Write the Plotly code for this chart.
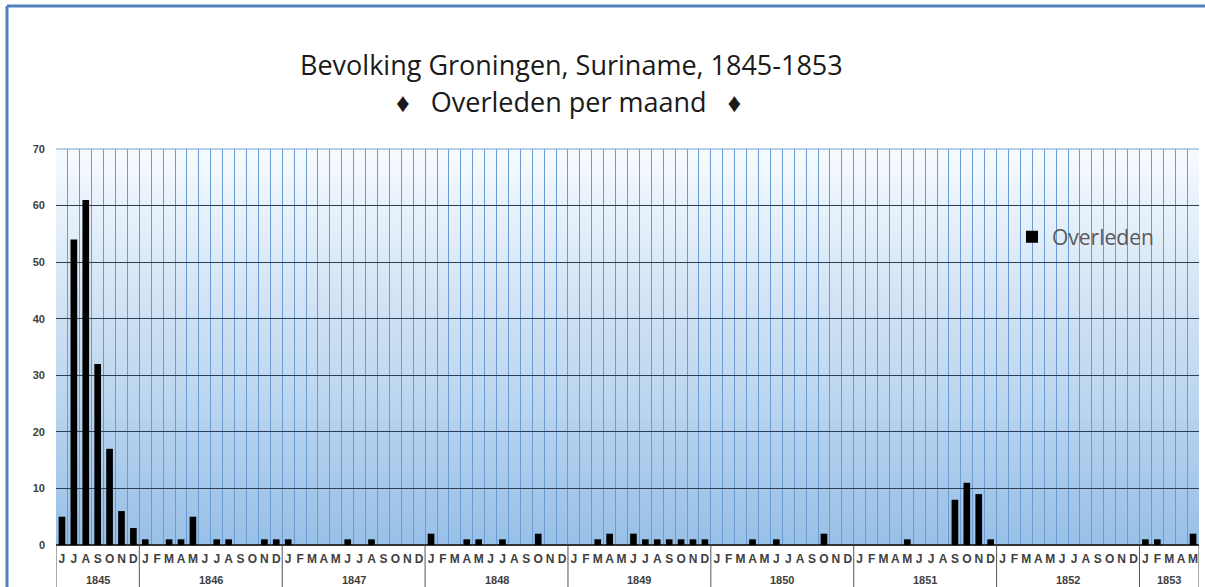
import plotly.graph_objects as go

# ---- data ----
years = ["1845", "1846", "1847", "1848", "1849", "1850", "1851", "1852", "1853"]
months_1845 = ["J", "J", "A", "S", "O", "N", "D"]
months_full = ["J", "F", "M", "A", "M", "J", "J", "A", "S", "O", "N", "D"]
months_1853 = ["J", "F", "M", "A", "M"]

deaths_1845 = [5, 54, 61, 32, 17, 6, 3]
deaths_1846 = [1, 0, 1, 1, 5, 0, 1, 1, 0, 0, 1, 1]
deaths_1847 = [1, 0, 0, 0, 0, 1, 0, 1, 0, 0, 0, 0]
deaths_1848 = [2, 0, 0, 1, 1, 0, 1, 0, 0, 2, 0, 0]
deaths_1849 = [0, 0, 1, 2, 0, 2, 1, 1, 1, 1, 1, 1]
deaths_1850 = [0, 0, 0, 1, 0, 1, 0, 0, 0, 2, 0, 0]
deaths_1851 = [0, 0, 0, 0, 1, 0, 0, 0, 8, 11, 9, 1]
deaths_1852 = [0, 0, 0, 0, 0, 0, 0, 0, 0, 0, 0, 0]
deaths_1853 = [1, 1, 0, 0, 2]

year_months = [months_1845] + [months_full] * 7 + [months_1853]
year_deaths = [deaths_1845, deaths_1846, deaths_1847, deaths_1848, deaths_1849,
               deaths_1850, deaths_1851, deaths_1852, deaths_1853]

month_labels = [m for ms in year_months for m in ms]
values = [v for ds in year_deaths for v in ds]
xs = list(range(len(values)))

# year spans
bounds = [-0.5]
for ms in year_months:
    bounds.append(bounds[-1] + len(ms))

W, H = 1205, 587
L, R, T, B = 56, 6, 149, 42
PW, PH = W - L - R, H - T - B


def px(xpix):
    return (xpix - L) / PW


def py(ypix):
    return (H - B - ypix) / PH


fig = go.Figure()
fig.add_trace(go.Bar(
    x=xs, y=values, name="Overleden", width=0.56,
    marker=dict(color="black", line=dict(width=0)),
    showlegend=True,
))

shapes = []
# gradient background
top = (0xF6, 0xFA, 0xFE)
bot = (0x98, 0xC0, 0xE6)
n = 60
for i in range(n):
    t = (i + 0.5) / n
    c = tuple(int(round(bot[k] + (top[k] - bot[k]) * t)) for k in range(3))
    shapes.append(dict(type="rect", xref="x domain", yref="y domain",
                       x0=0, x1=1, y0=i / n, y1=(i + 1) / n + 0.002,
                       fillcolor="rgb(%d,%d,%d)" % c, line=dict(width=0),
                       layer="below"))
# top border of plot
shapes.append(dict(type="line", xref="x domain", yref="y domain", x0=0, x1=1,
                   y0=1, y1=1, line=dict(color="#7ea6d3", width=1)))
# year separators below the axis
for b in bounds:
    shapes.append(dict(type="line", xref="x", yref="paper", x0=b, x1=b,
                       y0=0, y1=py(600), line=dict(color="#555555", width=1)))
# outer frame
shapes.append(dict(type="line", xref="paper", yref="paper", x0=px(7), x1=px(1210),
                   y0=py(6), y1=py(6), line=dict(color="#4f81bd", width=3)))
shapes.append(dict(type="line", xref="paper", yref="paper", x0=px(7), x1=px(7),
                   y0=py(6), y1=py(600), line=dict(color="#4f81bd", width=3)))

annotations = []
for i, y in enumerate(years):
    annotations.append(dict(x=(bounds[i] + bounds[i + 1]) / 2, y=py(580),
                            xref="x", yref="paper", text="<b>%s</b>" % y,
                            showarrow=False, xanchor="center", yanchor="middle",
                            font=dict(family="Liberation Sans", size=11, color="#404040")))
annotations.append(dict(x=px(571), y=py(65), xref="paper", yref="paper",
                        text="Bevolking Groningen, Suriname, 1845-1853", showarrow=False,
                        xanchor="center", yanchor="middle",
                        font=dict(family="Open Sans", size=27, color="#1a1a1a")))
annotations.append(dict(x=px(568), y=py(102), xref="paper", yref="paper",
                        text="\u2666   Overleden per maand   \u2666", showarrow=False,
                        xanchor="center", yanchor="middle",
                        font=dict(family="Open Sans", size=27, color="#1a1a1a")))

fig.update_layout(
    width=W, height=H,
    margin=dict(l=L, r=R, t=T, b=B),
    paper_bgcolor="white", plot_bgcolor="white",
    shapes=shapes, annotations=annotations,
    legend=dict(x=px(1012), y=py(237), xanchor="left", yanchor="middle",
                bgcolor="rgba(0,0,0,0)", font=dict(family="Open Sans", size=21, color="#595959"),
                itemsizing="constant"),
    xaxis=dict(
        range=[-0.5, len(values) - 0.5],
        tickmode="array", tickvals=xs, ticktext=month_labels,
        tickfont=dict(family="Liberation Sans", size=12, color="#404040", weight="bold"),
        showgrid=False, ticks="", showline=True, linecolor="#333333", linewidth=1,
        ticklabelstandoff=3,
        minor=dict(tickmode="array", tickvals=[x - 0.5 for x in xs] + [len(values) - 0.5],
                   showgrid=True, gridcolor="#6b9bd0", gridwidth=1, ticks=""),
        zeroline=False, fixedrange=True,
    ),
    yaxis=dict(
        range=[0, 70], dtick=10, tick0=0,
        tickfont=dict(family="Liberation Sans", size=11, color="#404040", weight="bold"),
        showgrid=True, gridcolor="#2b3f57", gridwidth=1,
        zeroline=True, zerolinecolor="#333333", ticks="", ticklabelstandoff=10,
        fixedrange=True,
    ),
)

fig.write_html("out.html", config={"displayModeBar": False},
               post_script="document.body.style.margin='0';document.body.style.overflow='hidden';")
